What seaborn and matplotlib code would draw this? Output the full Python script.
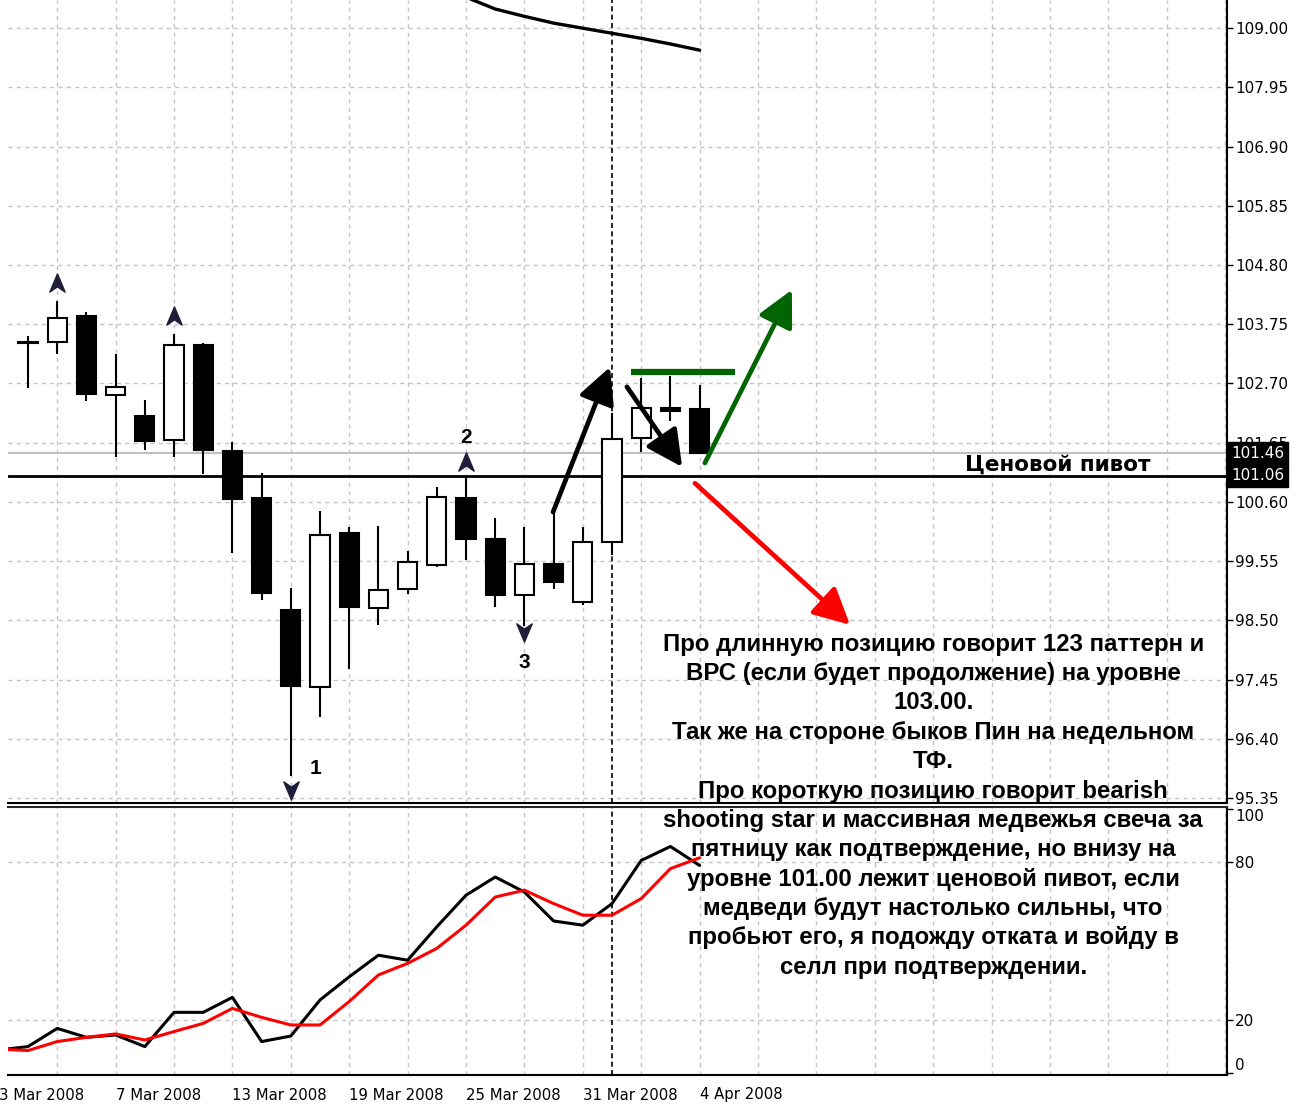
"""
Daily candlestick chart (Mar-Apr 2008) with stochastic oscillator and
trade-idea annotations, styled like a MetaTrader screenshot.
"""
import numpy as np
import pandas as pd
import matplotlib
matplotlib.use('Agg')
import matplotlib.pyplot as plt
import matplotlib.transforms as mtransforms
from matplotlib.path import Path
import seaborn as sns

# ---------------------------------------------------------------- data
# trading days shown on the chart (first one only reaches the stochastic)
dates = ['3 Mar 2008', '4 Mar 2008', '5 Mar 2008', '6 Mar 2008', '7 Mar 2008',
         '10 Mar 2008', '11 Mar 2008', '12 Mar 2008', '13 Mar 2008', '14 Mar 2008',
         '17 Mar 2008', '18 Mar 2008', '19 Mar 2008', '20 Mar 2008', '21 Mar 2008',
         '24 Mar 2008', '25 Mar 2008', '26 Mar 2008', '27 Mar 2008', '28 Mar 2008',
         '31 Mar 2008', '1 Apr 2008', '2 Apr 2008', '3 Apr 2008', '4 Apr 2008']

# OHLC for 4 Mar .. 4 Apr
open_ = [103.44, 103.44, 103.90, 102.49, 102.13, 101.69, 103.39, 101.51, 100.66, 98.68,
         97.32, 100.04, 98.71, 99.06, 99.48, 100.66, 99.95, 98.94, 99.50, 98.83,
         99.88, 101.73, 102.27, 102.24]
high = [103.54, 104.17, 103.96, 103.22, 102.41, 103.58, 103.41, 101.67, 101.12, 99.08,
        100.44, 100.15, 100.18, 99.73, 100.86, 101.05, 100.31, 100.15, 100.40, 100.15,
        102.17, 102.80, 102.84, 102.67]
low = [102.62, 103.23, 102.39, 101.39, 101.52, 101.39, 101.10, 99.70, 98.86, 95.73,
       96.79, 97.63, 98.41, 98.96, 99.45, 99.57, 98.73, 98.39, 99.05, 98.77,
       99.66, 101.49, 102.04, 101.46]
close = [103.42, 103.86, 102.52, 102.64, 101.68, 103.38, 101.52, 100.65, 98.99, 97.34,
         100.01, 98.74, 99.04, 99.53, 100.69, 99.94, 98.94, 99.49, 99.18, 99.88,
         101.72, 102.27, 102.22, 101.46]

# moving average, only its last part is inside the price window (24 Mar .. 4 Apr)
ma_values = [109.55, 109.34, 109.21, 109.09, 109.00, 108.91, 108.82, 108.72, 108.61]

# stochastic oscillator, 3 Mar .. 4 Apr
stoch_main = [8.6, 9.9, 16.8, 13.4, 14.3, 9.9, 22.9, 22.9, 28.6, 11.8, 13.9, 27.6,
              36.4, 44.6, 42.7, 55.4, 67.4, 74.3, 68.6, 57.6, 56.0, 64.2, 80.6, 85.9, 78.7]
stoch_signal = [8.9, 8.4, 11.8, 13.4, 14.7, 12.4, 15.6, 18.7, 24.4, 21.0, 18.1, 18.1,
                27.0, 37.1, 41.5, 47.2, 56.0, 66.7, 69.3, 64.2, 59.8, 59.8, 66.1, 77.5, 81.6]

# fractals (date, price of the marker)
fractal_up = {'5 Mar 2008': 104.48, '11 Mar 2008': 103.89, '25 Mar 2008': 101.31}
fractal_down = {'17 Mar 2008': 95.49, '27 Mar 2008': 98.29}

price_ticks = [95.35, 96.40, 97.45, 98.50, 99.55, 100.60, 101.65, 102.70,
               103.75, 104.80, 105.85, 106.90, 107.95, 109.00]
stoch_ticks = [0, 20, 80, 100]
pivot_level = 101.06
last_close = 101.46
resistance_level = 102.90

note_lines = [
    'Про длинную позицию говорит 123 паттерн и',
    'ВРС (если будет продолжение) на уровне',
    '103.00.',
    'Так же на стороне быков Пин на недельном',
    'ТФ.',
    'Про короткую позицию говорит bearish',
    'shooting star и массивная медвежья свеча за',
    'пятницу как подтверждение, но внизу на',
    'уровне 101.00 лежит ценовой пивот, если',
    'медведи будут настолько сильны, что',
    'пробьют его, я подожду отката и войду в',
    'селл при подтверждении.',
]

# hand-drawn arrows: (start, end, colour) in (bar, price)
arrows = [((17.98, 100.42), (19.93, 102.99), 'black'),
          ((20.51, 102.64), (22.40, 101.22), 'black'),
          ((23.18, 101.29), (26.16, 104.36), '#006400'),
          ((22.84, 100.93), (28.15, 98.42), '#ff0000')]

# ---------------------------------------------------------------- frames
pos = np.arange(len(dates)) - 1  # 4 Mar sits at 0
stoch_df = pd.DataFrame({'pos': pos, 'main': stoch_main, 'signal': stoch_signal})
candles = pd.DataFrame({'pos': pos[1:], 'open': open_, 'high': high,
                        'low': low, 'close': close})
ma_df = pd.DataFrame({'pos': pos[-len(ma_values):], 'ma': ma_values})
date_pos = dict(zip(dates, pos))

sns.set_style('white')
plt.rcParams['font.family'] = ['DejaVu Sans']
plt.rcParams['text.color'] = 'black'
plt.rcParams['xtick.color'] = 'black'
plt.rcParams['ytick.color'] = 'black'

W, H = 1303, 1104
fig = plt.figure(figsize=(W / 100, H / 100), dpi=100)
ax = fig.add_axes([8 / W, 1 - 803 / H, 1219 / W, 803 / H])
ax2 = fig.add_axes([8 / W, 1 - 1075 / H, 1219 / W, 268 / H])

xlim = (-0.685, 41.06)
grid_kw = dict(color='#c4c4c4', lw=1.0, ls=(0, (3, 3)), zorder=0)
for a in (ax, ax2):
    for gx in range(1, 42, 2):
        a.axvline(gx, **grid_kw)
    a.axvline(date_pos['1 Apr 2008'], color='black', lw=1.2, ls=(0, (3, 2)), zorder=1)
    a.spines['left'].set_visible(False)
    for s in ('right', 'bottom'):
        a.spines[s].set_linewidth(1.5)
        a.spines[s].set_color('black')
    a.yaxis.tick_right()
    a.tick_params(axis='y', which='major', direction='out', length=4, width=1,
                  labelsize=11, pad=2, colors='black')

# ---------------------------------------------------------------- price panel
ax.spines['top'].set_visible(False)
for gy in price_ticks:
    ax.axhline(gy, **grid_kw)

ax.axhline(last_close, color='#c0c0c0', lw=1.5, zorder=1)
ax.axhline(pivot_level, color='black', lw=2.0, zorder=2)

# candles
up = candles['close'] >= candles['open']
body_lo = np.minimum(candles['open'], candles['close'])
body_h = np.abs(candles['close'] - candles['open'])
ax.vlines(candles['pos'], candles['low'], candles['high'], color='black', lw=1.5, zorder=3)
ax.bar(candles['pos'], body_h, bottom=body_lo, width=0.66,
       color=np.where(up, 'white', 'black'), edgecolor='black', linewidth=1.5, zorder=4)

sns.lineplot(data=ma_df, x='pos', y='ma', ax=ax, color='black', lw=2.4, zorder=3)
ax.set_xlabel('')
ax.set_ylabel('')

# fractal arrows
up_marker = Path([(0, 1), (-0.8, -0.9), (0, -0.35), (0.8, -0.9), (0, 1)],
                 [Path.MOVETO, Path.LINETO, Path.LINETO, Path.LINETO, Path.CLOSEPOLY])
down_marker = Path([(0, -1), (-0.8, 0.9), (0, 0.35), (0.8, 0.9), (0, -1)],
                   [Path.MOVETO, Path.LINETO, Path.LINETO, Path.LINETO, Path.CLOSEPOLY])
ax.scatter([date_pos[d] for d in fractal_up], list(fractal_up.values()),
           marker=up_marker, s=190, color='#1e1e38', zorder=5)
ax.scatter([date_pos[d] for d in fractal_down], list(fractal_down.values()),
           marker=down_marker, s=190, color='#1e1e38', zorder=5)

num_kw = dict(fontsize=15, fontweight='bold', ha='center', va='center',
              family=['Liberation Sans', 'DejaVu Sans'])
ax.text(9.86, 95.88, '1', **num_kw)
ax.text(15.0, 101.75, '2', **num_kw)
ax.text(16.99, 97.76, '3', **num_kw)

# green resistance line and arrows
ax.hlines(resistance_level, 20.65, 24.2, color='#006400', lw=4.5, zorder=5)
for (x0, y0), (x1, y1), col in arrows:
    ax.annotate('', xy=(x1, y1), xytext=(x0, y0),
                arrowprops=dict(arrowstyle='-|>,head_length=0.55,head_width=0.28',
                                mutation_scale=40, color=col, lw=3.4,
                                shrinkA=0, shrinkB=0), zorder=6)

ax.text(32.09, 101.16, 'Ценовой пивот', fontsize=15.5, fontweight='bold',
        ha='left', va='baseline', family=['DejaVu Sans'], zorder=6)

ax.set_yticks(price_ticks)
ax.set_yticklabels([f'{t:.2f}' for t in price_ticks])
ax.set_xticks([])
ax.set_ylim(95.26, 109.50)
ax.set_xlim(*xlim)

# price labels for last close and pivot
trans = mtransforms.blended_transform_factory(ax.transAxes, ax.transData)
for lvl in (last_close, pivot_level):
    ax.text(1.0035, lvl, f'{lvl:.2f}', transform=trans, color='white', fontsize=11,
            ha='left', va='center', clip_on=False, zorder=10,
            bbox=dict(boxstyle='square,pad=0.25', fc='black', ec='black'))

# ---------------------------------------------------------------- stochastic panel
ax2.spines['top'].set_linewidth(1.5)
for gy in (20, 80):
    ax2.axhline(gy, **grid_kw)
sns.lineplot(data=stoch_df, x='pos', y='main', ax=ax2, color='black', lw=2.2, zorder=3)
sns.lineplot(data=stoch_df, x='pos', y='signal', ax=ax2, color='#ff0000', lw=2.2, zorder=4)
ax2.set_xlabel('')
ax2.set_ylabel('')
ax2.set_yticks(stoch_ticks)
ax2.set_yticklabels([str(t) for t in stoch_ticks])
for lbl, t in zip(ax2.get_yticklabels(), stoch_ticks):
    if t == 100:
        lbl.set_va('top')
    elif t == 0:
        lbl.set_va('bottom')

tick_idx = list(range(0, len(dates), 4))
ax2.set_xticks([pos[i] for i in tick_idx])
ax2.set_xticklabels([dates[i] for i in tick_idx], ha='left')
ax2.tick_params(axis='x', direction='out', length=4, width=1, labelsize=10.7, pad=5,
                colors='black')
ax2.set_ylim(-0.9, 100.9)
ax2.set_xlim(*xlim)

# the first date label sits left of the visible range, so draw it by hand
first_tr = (mtransforms.blended_transform_factory(ax2.transData, ax2.transAxes)
            + mtransforms.ScaledTranslation(0, -9 / 72, fig.dpi_scale_trans))
ax2.text(pos[0], 0, dates[0], transform=first_tr, fontsize=10.7, ha='left', va='top',
         clip_on=False)

# ---------------------------------------------------------------- note text
pitch = 29.36 / 100  # inches between baselines
for i, line in enumerate(note_lines):
    tr = ax.transData + mtransforms.ScaledTranslation(0, -i * pitch, fig.dpi_scale_trans)
    fig.text(31.0, 97.96, line, transform=tr, fontsize=17.3, fontweight='bold',
             ha='center', va='baseline', family=['Liberation Sans', 'DejaVu Sans'])

fig.savefig('out.png', dpi=100, facecolor='white')
